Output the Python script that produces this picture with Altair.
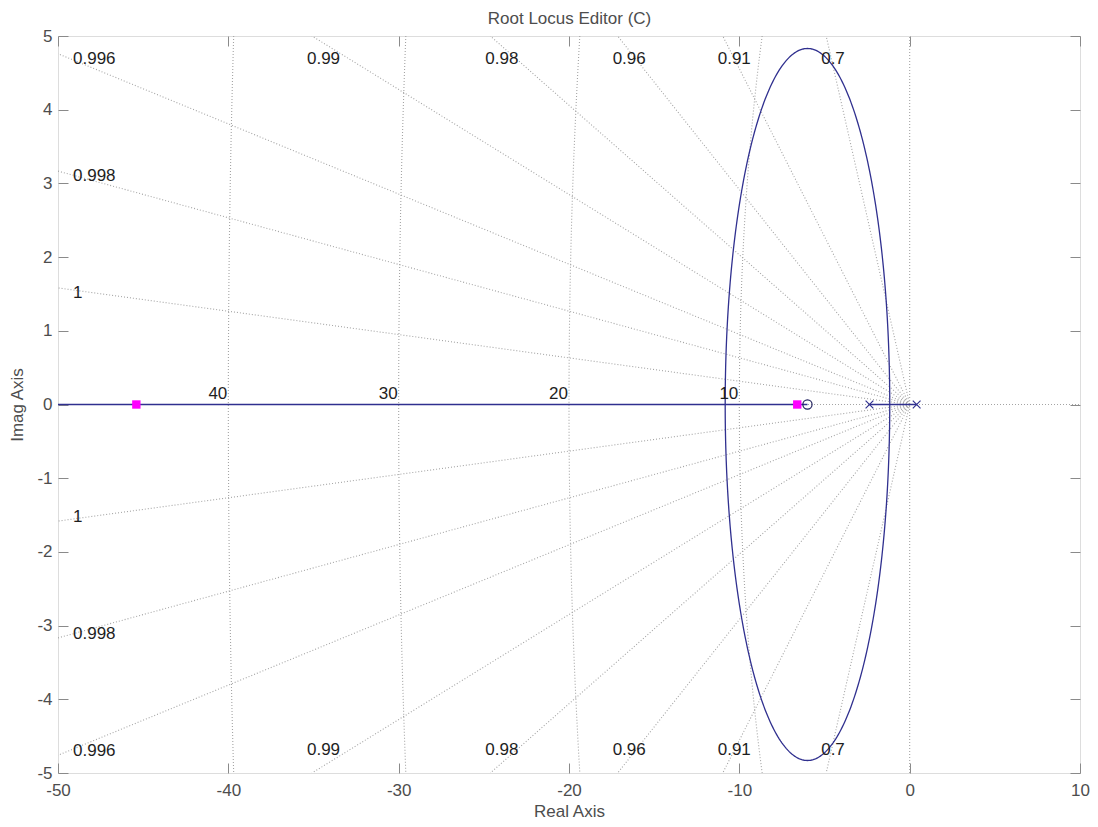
import numpy as np
import pandas as pd
import altair as alt

# ---------------- data ----------------
zeta_vals = [0.9995, 0.998, 0.9955, 0.99, 0.98, 0.96, 0.91, 0.70]
zeta_labels = ["1", "0.998", "0.996", "0.99", "0.98", "0.96", "0.91", "0.7"]
wn_vals = [10, 20, 30, 40]
wn_labels = ["10", "20", "30", "40"]
ol_poles = [-2.36, 0.41]
ol_zeros = [-6.0]
cl_poles = [-45.4, -6.6]
x_ticks = [-50, -40, -30, -20, -10, 0, 10]
y_ticks = [-5, -4, -3, -2, -1, 0, 1, 2, 3, 4, 5]
XMIN, XMAX, YMIN, YMAX = -50, 10, -5, 5
TITLE = "Root Locus Editor (C)"

FONT = "Liberation Sans"
GRID = "#a4a4a4"
LOCUS = "#30308f"
AXC = "#4d4d4d"
FRAME = "#8a8a8a"

# ---------------- grid geometry (kept inside the view) ----------------
grid_rows = []
edge_labels = []   # labels where ray exits the left edge
top_labels = []    # labels where ray exits top/bottom edge
gid = 0
for z, lab in zip(zeta_vals, zeta_labels):
    th = np.arccos(z)
    c, s = np.cos(th), np.sin(th)
    t = min(-XMIN / c, YMAX / s)
    for sgn in (1, -1):
        xe, ye = -t * c, sgn * t * s
        grid_rows += [dict(x=0.0, y=0.0, id=gid, o=0), dict(x=xe, y=ye, id=gid, o=1)]
        gid += 1
        rec = dict(x=xe, y=ye, label=lab, half="up" if sgn > 0 else "down")
        if -XMIN / c <= YMAX / s:
            edge_labels.append(rec)
        else:
            top_labels.append(rec)
for w in wn_vals:
    half_span = np.arcsin(min(1.0, YMAX / w))
    ang = np.linspace(np.pi - half_span, np.pi + half_span, 121)
    for k, a in enumerate(ang):
        grid_rows.append(dict(x=w * np.cos(a), y=w * np.sin(a), id=gid, o=k))
    gid += 1
# zeta = 0 and zeta = 1 lines
grid_rows += [dict(x=0.0, y=YMIN, id=gid, o=0), dict(x=0.0, y=YMAX, id=gid, o=1)]
gid += 1
grid_rows += [dict(x=XMIN, y=0.0, id=gid, o=0), dict(x=XMAX, y=0.0, id=gid, o=1)]
grid_df = pd.DataFrame(grid_rows)

edge_df = pd.DataFrame(edge_labels)
top_df = pd.DataFrame(top_labels)
wn_df = pd.DataFrame(dict(x=[-w for w in wn_vals], y=[0.0] * len(wn_vals), label=wn_labels))

# ---------------- root locus geometry ----------------
zc = ol_zeros[0]
r = np.sqrt(abs(zc - ol_poles[0]) * abs(zc - ol_poles[1]))
loc_rows = []
ang = np.linspace(0, 2 * np.pi, 361)
for k, a in enumerate(ang):
    loc_rows.append(dict(x=zc + r * np.cos(a), y=r * np.sin(a), id=0, o=k))
loc_rows += [dict(x=XMIN, y=0.0, id=1, o=0), dict(x=zc, y=0.0, id=1, o=1)]
loc_rows += [dict(x=min(ol_poles), y=0.0, id=2, o=0), dict(x=max(ol_poles), y=0.0, id=2, o=1)]
loc_df = pd.DataFrame(loc_rows)

poles_df = pd.DataFrame(dict(x=ol_poles, y=[0.0] * len(ol_poles)))
zeros_df = pd.DataFrame(dict(x=ol_zeros, y=[0.0] * len(ol_zeros)))
cl_df = pd.DataFrame(dict(x=cl_poles, y=[0.0] * len(cl_poles)))

# ---------------- scales & axes ----------------
xs = alt.Scale(domain=[XMIN, XMAX], nice=False, zero=False)
ys = alt.Scale(domain=[YMIN, YMAX], nice=False, zero=False)

ax_x_labels = alt.Axis(values=x_ticks, ticks=False, domain=False, grid=False,
                       labelPadding=9, labelFontSize=17, labelFont=FONT, labelColor=AXC,
                       labelFlush=False, labelExpr="'' + datum.value",
                       titleFontSize=17, titleFont=FONT, titleColor=AXC,
                       titleFontWeight="normal", titlePadding=5)
ax_y_labels = alt.Axis(values=y_ticks, ticks=False, domain=False, grid=False,
                       labelPadding=6, labelFontSize=17, labelFont=FONT, labelColor=AXC,
                       labelExpr="'' + datum.value",
                       titleFontSize=17, titleFont=FONT, titleColor=AXC,
                       titleFontWeight="normal", titlePadding=10)
ax_x_bottom_ticks = alt.Axis(values=x_ticks, orient="bottom", offset=-10, tickSize=10,
                             tickColor=FRAME, labels=False, domain=False, grid=False)
ax_y_left_ticks = alt.Axis(values=y_ticks, orient="left", offset=-10, tickSize=10,
                           tickColor=FRAME, labels=False, domain=False, grid=False)
ax_x_top_ticks = alt.Axis(values=x_ticks, orient="top", offset=-10, tickSize=10,
                          tickColor=FRAME, labels=False, domain=False, grid=False,
                          titleFontSize=17, titleFont=FONT, titleColor=AXC,
                          titleFontWeight="normal", titlePadding=8)
ax_y_right_ticks = alt.Axis(values=y_ticks, orient="right", offset=-10, tickSize=10,
                            tickColor=FRAME, labels=False, domain=False, grid=False)


def enc_x(axis, title=None):
    return alt.X("x:Q", scale=xs, axis=axis, title=title)


def enc_y(axis, title=None):
    return alt.Y("y:Q", scale=ys, axis=axis, title=title)


grid_layer = alt.Chart(grid_df).mark_line(
    color=GRID, strokeDash=[1, 2], strokeWidth=1.1, clip=True
).encode(
    x=enc_x(ax_x_labels, "Real Axis"),
    y=enc_y(ax_y_labels, "Imag Axis"),
    detail="id:N", order="o:Q",
)

locus_layer = alt.Chart(loc_df).mark_line(
    color=LOCUS, strokeWidth=1.3, clip=True
).encode(
    x=enc_x(ax_x_bottom_ticks), y=enc_y(ax_y_left_ticks),
    detail="id:N", order="o:Q",
)

poles_layer = alt.Chart(poles_df).mark_point(
    shape="M-1,-1L1,1M-1,1L1,-1", size=60, color=LOCUS, filled=False,
    strokeWidth=1.2, opacity=1
).encode(x=enc_x(None), y=enc_y(None))

zeros_layer = alt.Chart(zeros_df).mark_point(
    shape="circle", size=85, color="#20205e", filled=False, strokeWidth=1.2, opacity=1
).encode(x=enc_x(None), y=enc_y(None))

cl_layer = alt.Chart(cl_df).mark_square(
    size=70, color="#ff00ff", opacity=1
).encode(x=enc_x(ax_x_top_ticks, TITLE), y=enc_y(ax_y_right_ticks))

txt = dict(font=FONT, fontSize=17, color="#1e1e1e")

edge_up = alt.Chart(edge_df[edge_df.half == "up"]).mark_text(
    align="left", baseline="middle", dx=15, dy=5, **txt
).encode(x=alt.X("x:Q", scale=xs, axis=None), y=enc_y(None), text="label:N")
edge_dn = alt.Chart(edge_df[edge_df.half == "down"]).mark_text(
    align="left", baseline="middle", dx=15, dy=-4, **txt
).encode(x=alt.X("x:Q", scale=xs, axis=None), y=enc_y(None), text="label:N")

top_up = alt.Chart(top_df[top_df.half == "up"]).mark_text(
    align="left", baseline="middle", dx=-5, dy=23, **txt
).encode(x=enc_x(None), y=enc_y(None), text="label:N")
top_dn = alt.Chart(top_df[top_df.half == "down"]).mark_text(
    align="left", baseline="middle", dx=-5, dy=-23, **txt
).encode(x=enc_x(None), y=enc_y(None), text="label:N")

wn_text = alt.Chart(wn_df).mark_text(
    align="right", baseline="middle", dx=-1, dy=-11, **txt
).encode(x=enc_x(None), y=enc_y(None), text="label:N")

chart = alt.layer(
    grid_layer, locus_layer, poles_layer, zeros_layer, cl_layer,
    edge_up, edge_dn, top_up, top_dn, wn_text,
).resolve_axis(
    x="independent", y="independent"
).properties(
    width=1022, height=737,
    autosize=alt.AutoSizeParams(type="none"),
    padding={"left": 50, "top": 28, "right": 10, "bottom": 46},
).configure_view(
    stroke=FRAME, strokeWidth=1
).configure(background="white")

chart.save("out.html", embed_options={"renderer": "svg", "actions": False})
